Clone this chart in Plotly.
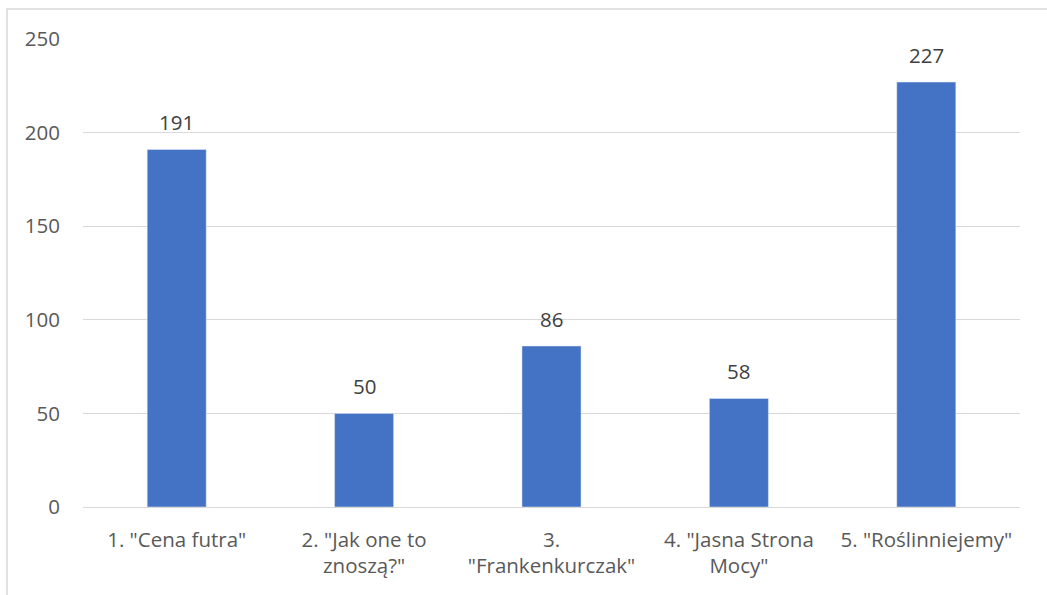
import plotly.graph_objects as go

categories = ['1. "Cena futra"', '2. "Jak one to<br>znoszą?"', '3.<br>"Frankenkurczak"',
              '4. "Jasna Strona<br>Mocy"', '5. "Roślinniejemy"']
values = [191, 50, 86, 58, 227]
y_ticks = [0, 50, 100, 150, 200, 250]

FONT = "Open Sans"
FS = 20.5
fig = go.Figure()
fig.add_trace(go.Bar(x=categories, y=values, marker_color="#4472C4", width=0.315,
                     hoverinfo="skip"))
for c, v in zip(categories, values):
    fig.add_annotation(x=c, y=v, text=str(v), showarrow=False, yanchor="bottom",
                       yshift=11, font=dict(family=FONT, size=FS, color="#404040"))

L, R, T, B = 83, 27, 39, 88
W, H = 1047, 595
pw, ph = W - L - R, H - T - B
x0 = (7 - L) / pw
y1 = (H - B - 9) / ph
fig.add_shape(type="rect", xref="paper", yref="paper", x0=x0, x1=1.2, y0=-0.4, y1=y1,
              line=dict(color="#d9d9d9", width=1.5), fillcolor="rgba(0,0,0,0)", layer="below")

fig.update_layout(
    width=W, height=H, margin=dict(l=L, r=R, t=T, b=B),
    paper_bgcolor="white", plot_bgcolor="white", showlegend=False,
    font=dict(family=FONT, size=FS, color="#595959"),
    xaxis=dict(showgrid=False, showline=False, ticks="", ticklabelstandoff=18,
               tickfont=dict(size=FS, color="#595959")),
    yaxis=dict(range=[0, 250], tickvals=y_ticks, showgrid=True, gridcolor="#d9d9d9",
               gridwidth=1, zeroline=True, zerolinecolor="#d9d9d9", zerolinewidth=1,
               ticks="", ticklabelstandoff=22, tickfont=dict(size=FS, color="#595959")),
)
fig.write_html("out.html")
